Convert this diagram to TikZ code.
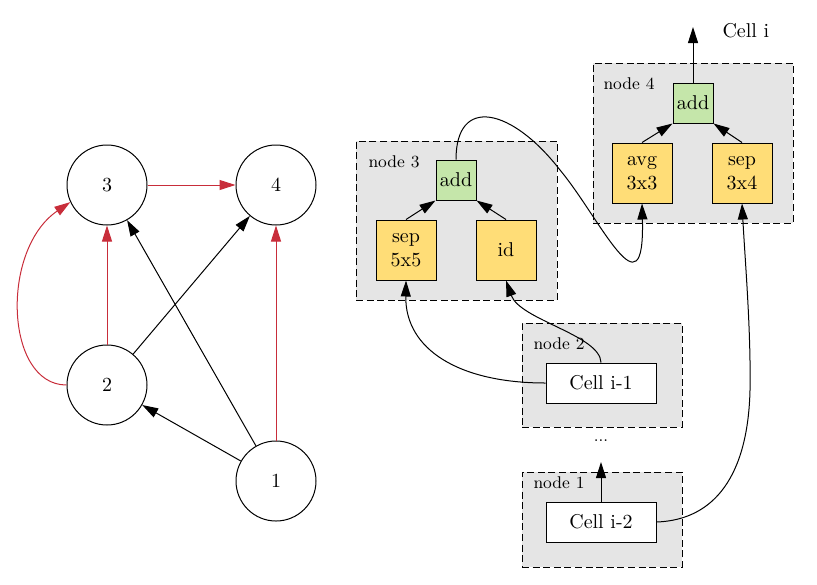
\documentclass[tikz,border=0pt]{standalone}
\usepackage{tikz}
\usetikzlibrary{arrows.meta}

\definecolor{edgered}{RGB}{200,45,58}
\definecolor{opyellow}{RGB}{255,221,119}
\definecolor{addgreen}{RGB}{197,230,170}
\definecolor{grpgray}{RGB}{229,229,229}

\begin{document}
\begin{tikzpicture}[x=0.5pt,y=-0.5pt,>={Triangle[length=8pt,width=5pt]},line width=0.5pt,
  vert/.style={draw,circle,minimum size=40pt,inner sep=0pt},
  grp/.style={draw,dash pattern=on 3.5pt off 1.8pt,fill=grpgray,rectangle,inner sep=0pt},
  opbox/.style={draw,rectangle,fill=opyellow,minimum size=30pt,inner sep=0pt,align=center},
  addbox/.style={draw,rectangle,fill=addgreen,minimum size=20pt,inner sep=0pt},
  cellbox/.style={draw,rectangle,fill=white,minimum width=55pt,minimum height=20pt,inner sep=0pt},
  grplabel/.style={anchor=base west,font=\fontsize{8.5}{10}\selectfont,inner sep=0pt},
  rededge/.style={->,draw=edgered}]
            \useasboundingbox (0,0) rectangle (817,584);
            % left: the graph
            \node [vert] (c3) at (107,185) {3};
            \node [vert] (c4) at (276,185) {4};
            \node [vert] (c2) at (107,385) {2};
            \node [vert] (c1) at (276,481) {1};
            \draw [rededge] (c3) -- (c4);
            \draw [rededge] (c2) -- (c3);
            \draw [rededge] (c1) -- (c4);
            \draw [rededge] (c2.west) .. controls (5,385) and (0,250) .. (c3.205);
            \draw [->] (c1) -- (c2);
            \draw [->] (c1) -- (c3);
            \draw [->] (c2) -- (c4);
            % right: the cells
            \node [grp,minimum width=100.5pt,minimum height=79.5pt] (g3) at (456.5,220.5) {};
            \node [grp,minimum width=100pt,minimum height=80pt] (g4) at (693,143) {};
            \node [grp,minimum width=80pt,minimum height=52pt] (g2) at (602,375) {};
            \node [grp,minimum width=80pt,minimum height=47.5pt] (g1) at (602,519.5) {};
            \node [grplabel] (l3) at (368,167) {node 3};
            \node [grplabel] (l4) at (603,89) {node 4};
            \node [grplabel] (l2) at (533,349) {node 2};
            \node [grplabel] (l1) at (533,488) {node 1};
            \node [addbox] (add3) at (456,180) {add};
            \node [opbox] (sep5) at (406,250) {sep\\5x5};
            \node [opbox] (idop) at (506,250) {id};
            \node [addbox] (add4) at (693,103) {add};
            \node [opbox] (avg3) at (642,173) {avg\\3x3};
            \node [opbox] (sep34) at (742,173) {sep\\3x4};
            \node [cellbox] (ci1) at (601,383) {Cell i-1};
            \node [cellbox] (ci2) at (601,522) {Cell i-2};
            \node [anchor=base west,inner sep=0pt] (celli) at (722,37) {Cell i};
            \node [font=\footnotesize,inner sep=0pt] (dots) at (601,441) {...};
            \coordinate (out) at (693,27);
            \coordinate (up) at (601,462);
            \draw [->] (sep5.north) -- (add3.south west);
            \draw [->] (idop.north) -- (add3.south east);
            \draw [->] (avg3.north) -- (add4.south west);
            \draw [->] (sep34.north) -- (add4.south east);
            \draw [->] (add4.north) -- (out);
            \draw [->] (ci2.north) -- (up);
            \draw [->] (ci1.west) .. controls (460,383) and (405,350) .. (sep5.south);
            \draw [->] (ci1.north) .. controls (600,335) and (520,320) .. (idop.south);
            \draw [->] (add3.north) .. controls (456,95) and (512,108) .. (560,170)
                       .. controls (600,218) and (645,320) .. (avg3.south);
            \draw [->] (ci2.east) .. controls (715,520) and (748,475) .. (750,390)
                       .. controls (751,330) and (745,260) .. (sep34.south);
        \end{tikzpicture}
\end{document}
